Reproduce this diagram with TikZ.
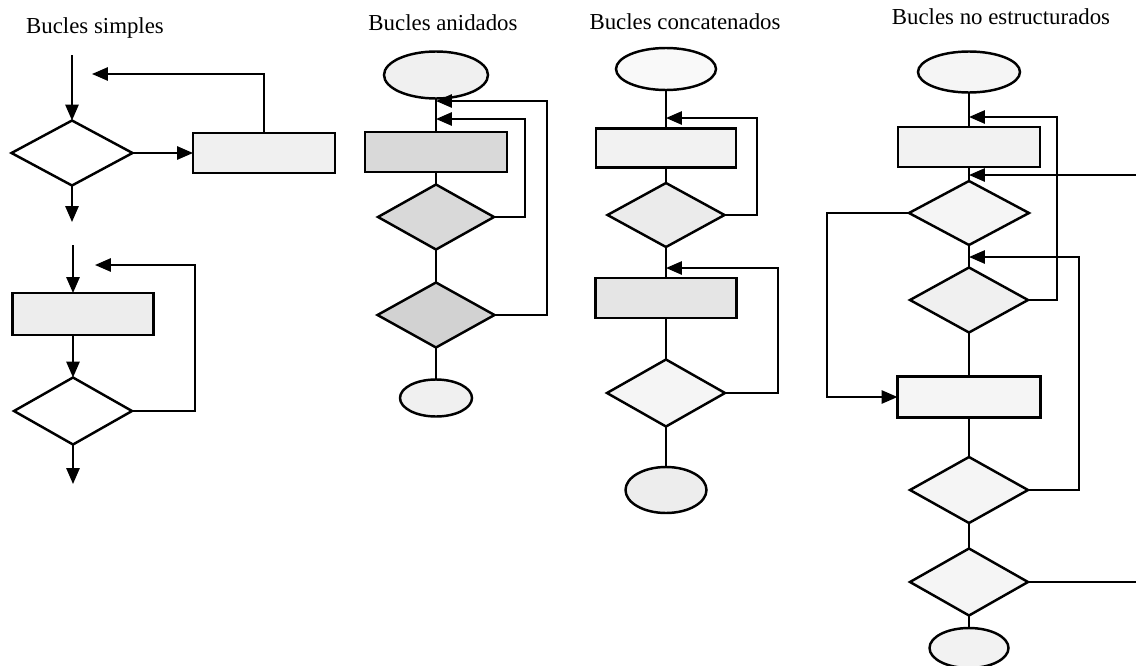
\documentclass[tikz,border=0pt]{standalone}
\usepackage{fontspec}
\setmainfont{Liberation Serif}
\usetikzlibrary{shapes.geometric,arrows.meta}

\begin{document}
\begin{tikzpicture}[x=0.02cm,y=-0.02cm,
  ln/.style={line width=1.1pt},
  arr/.style={ln,-{Triangle[length=9pt,width=7.5pt]}},
  shp/.style={draw,line width=1.4pt,inner sep=0pt,outer sep=0pt},
  procbox/.style n args={3}{shp,rectangle,minimum width=#1*0.02cm,minimum height=#2*0.02cm,fill=#3},
  cond/.style n args={3}{shp,diamond,minimum width=#1*0.02cm,minimum height=#2*0.02cm,fill=#3},
  term/.style n args={3}{shp,ellipse,minimum width=#1*0.02cm,minimum height=#2*0.02cm,fill=#3},
  title/.style={anchor=base,inner sep=0pt,font=\fontsize{13}{15}\selectfont}]
\useasboundingbox (0,0) rectangle (1136,666);

% ---------- titles ----------
\node[title] (t1) at (95,33) {Bucles simples};
\node[title] (t2) at (443,31) {Bucles anidados};
\node[title] (t3) at (685,30) {Bucles concatenados};
\node[title] (t4) at (1001,25) {Bucles no estructurados};

% ---------- simple loops ----------
% while-type loop
\coordinate (sA) at (72,55);
\node[cond={121}{65}{white}] (sd1) at (72,153) {};
\node[procbox={142}{40}{gray!12}] (sb1) at (264,153) {};
\coordinate (sfb1) at (92,74);
\coordinate (sout1) at (72,222);
\draw[arr] (sA) -- (sd1.north);
\draw[arr] (sd1.east) -- (sb1.west);
\draw[arr] (sb1.north) |- (sfb1);
\draw[arr] (sd1.south) -- (sout1);
% repeat-type loop
\coordinate (sB) at (73,245);
\node[procbox={141}{42}{gray!14}] (sb2) at (83,314) {};
\node[cond={118}{67}{white}] (sd2) at (73,411) {};
\coordinate (sfb2) at (95,265);
\coordinate (sout2) at (73,484);
\draw[arr] (sB) -- (sB |- sb2.north);
\draw[arr] (sd2.north |- sb2.south) -- (sd2.north);
\draw[arr] (sd2.east) -- (195,411) |- (sfb2);
\draw[arr] (sd2.south) -- (sout2);

% ---------- nested loops ----------
\node[term={104}{47}{gray!12}] (ne1) at (436,75) {};
\node[procbox={142}{40}{gray!30}] (nb) at (436,152) {};
\node[cond={116}{65}{gray!30}] (nd1) at (436,217) {};
\node[cond={117}{65}{gray!35}] (nd2) at (436,315) {};
\node[term={72}{37}{gray!12}] (ne2) at (436,398) {};
\coordinate (nj1) at (436,101);
\coordinate (nj2) at (436,119);
\draw[ln] (ne1.south) -- (nb.north);
\draw[ln] (nb.south) -- (nd1.north);
\draw[ln] (nd1.south) -- (nd2.north);
\draw[ln] (nd2.south) -- (ne2.north);
\draw[arr] (nd1.east) -- (525,217) |- (nj2);
\draw[arr] (nd2.east) -- (547,315) |- (nj1);

% ---------- concatenated loops ----------
\node[term={100}{42}{gray!5}] (ce1) at (666,69) {};
\node[procbox={140}{39}{gray!10}] (cb1) at (666,148) {};
\node[cond={117}{64}{gray!16}] (cd1) at (666,215) {};
\node[procbox={141}{40}{gray!20}] (cb2) at (666,298) {};
\node[cond={118}{67}{gray!8}] (cd2) at (666,393) {};
\node[term={81}{46}{gray!14}] (ce2) at (666,490) {};
\coordinate (cj1) at (666,118);
\coordinate (cj2) at (666,268);
\draw[ln] (ce1.south) -- (cb1.north);
\draw[ln] (cb1.south) -- (cd1.north);
\draw[ln] (cd1.south) -- (cb2.north);
\draw[ln] (cb2.south) -- (cd2.north);
\draw[ln] (cd2.south) -- (ce2.north);
\draw[arr] (cd1.east) -- (757,215) |- (cj1);
\draw[arr] (cd2.east) -- (778,393) |- (cj2);

% ---------- unstructured loops ----------
\node[term={102}{41}{gray!8}] (ue1) at (969,72) {};
\node[procbox={142}{40}{gray!10}] (ub1) at (969,147) {};
\node[cond={120}{64}{gray!8}] (ud1) at (969,213) {};
\node[cond={118}{65}{gray!12}] (ud2) at (969,300) {};
\node[procbox={143}{41}{gray!8}] (ub2) at (969,397) {};
\node[cond={118}{66}{gray!8}] (ud3) at (969,490) {};
\node[cond={118}{67}{gray!8}] (ud4) at (969,582) {};
\node[term={79}{40}{gray!10}] (ue2) at (969,648) {};
\coordinate (uj1) at (969,117);
\coordinate (uj2) at (969,175);
\coordinate (uj3) at (969,257);
\coordinate (uin) at (1136,175);
\coordinate (uout) at (1136,582);
\draw[ln] (ue1.south) -- (ub1.north);
\draw[ln] (ub1.south) -- (ud1.north);
\draw[ln] (ud1.south) -- (ud2.north);
\draw[ln] (ud2.south) -- (ub2.north);
\draw[ln] (ub2.south) -- (ud3.north);
\draw[ln] (ud3.south) -- (ud4.north);
\draw[ln] (ud4.south) -- (ue2.north);
\draw[arr] (ud2.east) -- (1057,300) |- (uj1);
\draw[arr] (ud3.east) -- (1079,490) |- (uj3);
\draw[arr] (ud1.west) -- (827,213) |- (ub2.west);
\draw[arr] (uin) -- (uj2);
\draw[ln] (ud4.east) -- (uout);
\end{tikzpicture}
\end{document}
